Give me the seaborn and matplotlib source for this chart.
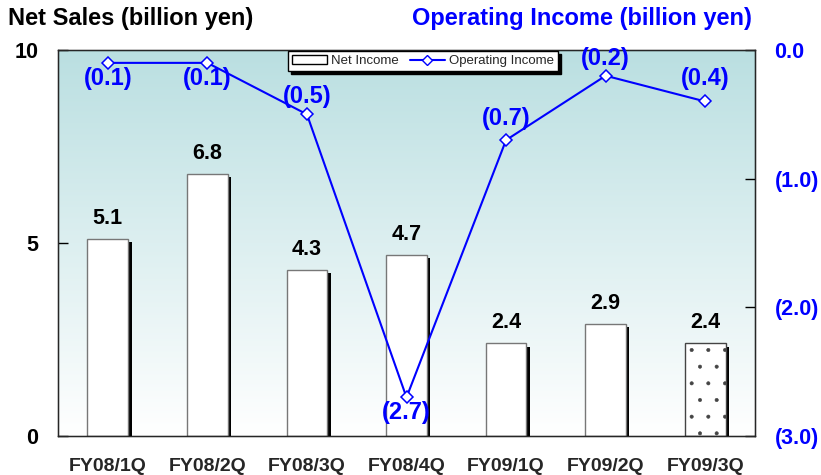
import numpy as np
import matplotlib
matplotlib.use("Agg")
import matplotlib.pyplot as plt
import matplotlib.patheffects as pe
from matplotlib.colors import LinearSegmentedColormap
from matplotlib.lines import Line2D
from matplotlib.patches import Patch
import seaborn as sns

# Quarterly figures
quarters = ["FY08/1Q", "FY08/2Q", "FY08/3Q", "FY08/4Q", "FY09/1Q", "FY09/2Q", "FY09/3Q"]
net_income = [5.1, 6.8, 4.3, 4.7, 2.4, 2.9, 2.4]
operating_income = [-0.1, -0.1, -0.5, -2.7, -0.7, -0.2, -0.4]
left_ticks = [0, 5, 10]
right_ticks = [0.0, -1.0, -2.0, -3.0]

# vertical pixel offsets of the operating-income value labels
label_dy = [-16, -16, 18, -15, 22, 17, 23]

sns.set_style("white")
plt.rcParams["font.family"] = ["Liberation Sans", "DejaVu Sans"]
plt.rcParams["hatch.linewidth"] = 0.4

BLUE = "#0000FF"


def paren(v):
    return f"({abs(v):.1f})" if v < 0 else f"{v:.1f}"


fig = plt.figure(figsize=(8.21, 4.75), dpi=100)
ax = fig.add_axes([58 / 821, 1 - 436 / 475, (755 - 58) / 821, (436 - 50) / 475])

# background gradient: pale teal at the top fading to white
cmap = LinearSegmentedColormap.from_list("bg", ["#FFFFFF", "#BADFE1"])
grad = np.linspace(0, 1, 256).reshape(-1, 1)
ax.imshow(grad, extent=[-0.5, 6.5, 0, 10], origin="lower", aspect="auto",
          cmap=cmap, zorder=0)

sns.barplot(x=quarters, y=net_income, ax=ax, color="white", saturation=1,
            edgecolor="#777777", linewidth=1, width=0.41, zorder=2)
for i, bar in enumerate(ax.patches):
    bar.set_path_effects([pe.SimplePatchShadow(offset=(2.4, -2.4), shadow_rgbFace="black", alpha=1),
                          pe.Normal()])
    if i == len(net_income) - 1:
        bar.set_hatch(".")
        bar.set_edgecolor("#444444")

for i, v in enumerate(net_income):
    ax.annotate(f"{v:.1f}", (i, v), xytext=(0, 15), textcoords="offset pixels",
                ha="center", va="baseline", fontsize=15.5, fontweight="bold", color="black")

ax.set_xlim(-0.5, 6.5)
ax.set_ylim(0, 10)
ax.set_yticks(left_ticks)
ax.set_yticklabels([str(t) for t in left_ticks], fontsize=15.5, fontweight="bold")
ax.tick_params(axis="y", direction="in", length=7, width=1, pad=14, colors="black")
ax.set_xticks(range(len(quarters)))
ax.set_xticklabels(quarters, fontsize=14, fontweight="bold")
ax.set_xticks(np.arange(0.5, 6.5, 1), minor=True)
ax.tick_params(axis="x", which="major", length=0, pad=16)
ax.tick_params(axis="x", which="minor", direction="in", length=6, width=1, color="black")
ax.set_xlabel("")
ax.set_ylabel("")
for s in ax.spines.values():
    s.set_color("black")
    s.set_linewidth(1)

ax2 = ax.twinx()
sns.lineplot(x=np.arange(len(quarters)), y=operating_income, ax=ax2, color=BLUE,
             linewidth=1.5, marker="D", markersize=6, markerfacecolor="white",
             markeredgecolor=BLUE, markeredgewidth=1.1, zorder=5)
ax2.set_ylim(-3, 0)
ax2.set_yticks(right_ticks)
ax2.set_yticklabels([paren(t) for t in right_ticks], fontsize=15.5, fontweight="bold", color=BLUE)
ax2.tick_params(axis="y", direction="in", length=7, width=1, pad=14, color="black")
ax2.set_ylabel("")
ax2.set_xlim(-0.5, 6.5)

for i, v in enumerate(operating_income):
    ax2.annotate(paren(v), (i, v), xytext=(0, label_dy[i]), textcoords="offset pixels",
                 ha="center", va="center", fontsize=17, fontweight="bold", color=BLUE)

handles = [Patch(facecolor="white", edgecolor="black", linewidth=1),
           Line2D([0], [0], color=BLUE, lw=1.5, marker="D", markersize=5,
                  markerfacecolor="white", markeredgecolor=BLUE)]
leg = ax2.legend(handles, ["Net Income", "Operating Income"], ncol=2,
                 loc="center", bbox_to_anchor=(423 / 821, 1 - 61 / 475),
                 bbox_transform=fig.transFigure, fancybox=False, framealpha=1,
                 edgecolor="black", fontsize=9.5, handlelength=2.7, handletextpad=0.3,
                 columnspacing=0.8, borderpad=0.3, borderaxespad=0,
                 shadow={"color": "black", "alpha": 1, "ox": 2, "oy": -2})
leg.get_frame().set_linewidth(1)
leg.set_zorder(10)

fig.text(8 / 821, 1 - 18 / 475, "Net Sales (billion yen)", ha="left", va="center",
         fontsize=17, fontweight="bold", color="black")
fig.text(752 / 821, 1 - 18 / 475, "Operating Income (billion yen)", ha="right", va="center",
         fontsize=17, fontweight="bold", color=BLUE)

fig.savefig("out.png", dpi=100)
